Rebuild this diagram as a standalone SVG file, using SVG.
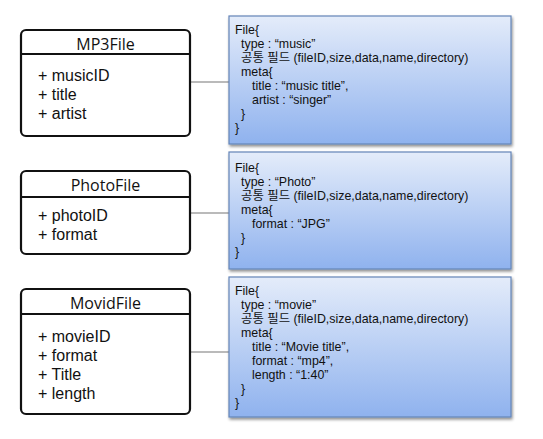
<svg xmlns="http://www.w3.org/2000/svg" width="543" height="439" viewBox="0 0 543 439">
<defs>
<linearGradient id="blue" x1="0" y1="0" x2="0" y2="1">
<stop offset="0" stop-color="#e4ecfa"/>
<stop offset="1" stop-color="#8fb2ee"/>
</linearGradient>
<filter id="sh" x="-5%" y="-5%" width="115%" height="120%">
<feGaussianBlur in="SourceAlpha" stdDeviation="1.5"/>
<feOffset dx="1" dy="2"/>
<feComponentTransfer><feFuncA type="linear" slope="0.45"/></feComponentTransfer>
<feMerge><feMergeNode/><feMergeNode in="SourceGraphic"/></feMerge>
</filter>
</defs>
<style>
.uml{fill:#fff;stroke:#111;stroke-width:2.2}
.div{stroke:#111;stroke-width:2}
.ttl{font-family:"Open Sans","Noto Sans",sans-serif;font-size:16px;fill:#111;text-anchor:middle}
.att{font-family:"Liberation Sans",Arial,sans-serif;font-size:16px;fill:#111}
.note{fill:url(#blue);stroke:#6585b8;stroke-width:1.2}
.nt{font-family:"Liberation Sans","Noto Sans CJK KR",sans-serif;font-size:12.4px;fill:#111}
.con{stroke:#777;stroke-width:1.2;fill:none}
</style>
<rect width="543" height="439" fill="#fff"/>
<g id="connectors">
<line class="con" x1="191" y1="82" x2="229" y2="82"/>
<line class="con" x1="191" y1="213" x2="229" y2="213"/>
<line class="con" x1="191" y1="352" x2="229" y2="352"/>
</g>
<g id="mp3file">
<rect class="uml" x="21" y="30" width="169" height="106" rx="5"/>
<line class="div" x1="21" y1="54" x2="190" y2="54"/>
<text class="ttl" x="105.5" y="50">MP3File</text>
<text class="att" x="38" y="81">+ musicID</text>
<text class="att" x="38" y="100">+ title</text>
<text class="att" x="38" y="119">+ artist</text>
</g>
<g id="photofile">
<rect class="uml" x="21" y="171" width="169" height="83" rx="5"/>
<line class="div" x1="21" y1="197" x2="190" y2="197"/>
<text class="ttl" x="105.5" y="191">PhotoFile</text>
<text class="att" x="38" y="221">+ photoID</text>
<text class="att" x="38" y="240">+ format</text>
</g>
<g id="movidfile">
<rect class="uml" x="21" y="289" width="169" height="125" rx="5"/>
<line class="div" x1="21" y1="314" x2="190" y2="314"/>
<text class="ttl" x="105.5" y="309">MovidFile</text>
<text class="att" x="38" y="342">+ movieID</text>
<text class="att" x="38" y="361">+ format</text>
<text class="att" x="38" y="380">+ Title</text>
<text class="att" x="38" y="399">+ length</text>
</g>
<g id="music-json">
<rect class="note" x="229" y="16" width="282" height="128" filter="url(#sh)"/>
<text class="nt" x="235" y="34">File{</text>
<text class="nt" x="241" y="48">type : “music”</text>
<text class="nt" x="241" y="62">공통 필드 (fileID,size,data,name,directory)</text>
<text class="nt" x="241" y="76">meta{</text>
<text class="nt" x="252" y="90">title : “music title”,</text>
<text class="nt" x="252" y="104">artist : “singer”</text>
<text class="nt" x="241" y="118">}</text>
<text class="nt" x="235" y="132">}</text>
</g>
<g id="photo-json">
<rect class="note" x="229" y="152" width="282" height="117" filter="url(#sh)"/>
<text class="nt" x="235" y="172">File{</text>
<text class="nt" x="241" y="186">type : “Photo”</text>
<text class="nt" x="241" y="200">공통 필드 (fileID,size,data,name,directory)</text>
<text class="nt" x="241" y="214">meta{</text>
<text class="nt" x="252" y="228">format : “JPG”</text>
<text class="nt" x="241" y="242">}</text>
<text class="nt" x="235" y="256">}</text>
</g>
<g id="movie-json">
<rect class="note" x="229" y="277" width="282" height="140" filter="url(#sh)"/>
<text class="nt" x="235" y="295">File{</text>
<text class="nt" x="241" y="309">type : “movie”</text>
<text class="nt" x="241" y="323">공통 필드 (fileID,size,data,name,directory)</text>
<text class="nt" x="241" y="337">meta{</text>
<text class="nt" x="252" y="351">title : “Movie title”,</text>
<text class="nt" x="252" y="365">format : “mp4”,</text>
<text class="nt" x="252" y="379">length : “1:40”</text>
<text class="nt" x="241" y="393">}</text>
<text class="nt" x="235" y="407">}</text>
</g>
</svg>
